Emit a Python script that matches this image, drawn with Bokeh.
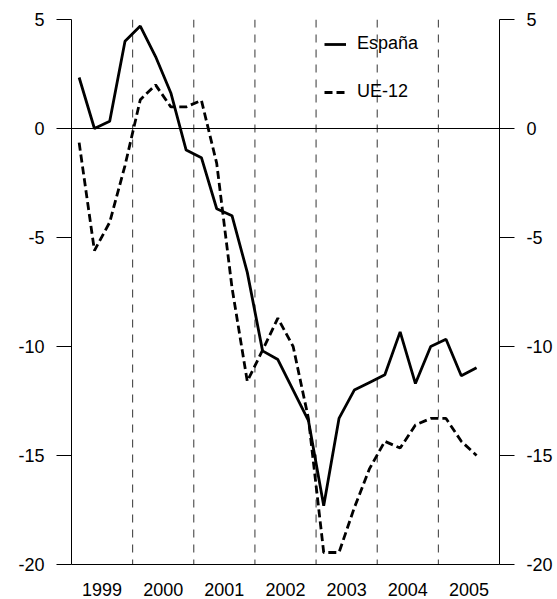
from bokeh.plotting import figure
from bokeh.models import (LinearAxis, Range1d, FixedTicker, Span, Legend, LegendItem)
from bokeh.embed import file_html
from bokeh.resources import INLINE

# ---- data ----
years = [1999, 2000, 2001, 2002, 2003, 2004, 2005]
year_labels = ["1999", "2000", "2001", "2002", "2003", "2004", "2005"]
quarters_per_year = 4
first_year = 1999
n_quarters = 27  # 1999T1 .. 2005T3

espana = [2.34, 0.0, 0.33, 4.0, 4.7, 3.3, 1.63, -0.99, -1.34, -3.68, -4.0, -6.6,
          -10.2, -10.6, -12.0, -13.4, -17.3, -13.3, -12.0, -11.65, -11.3, -9.33,
          -11.7, -10.0, -9.67, -11.34, -10.97]
ue12 = [-0.65, -5.6, -4.3, -1.7, 1.32, 2.0, 0.99, 0.99, 1.29, -1.6, -7.3, -11.6,
        -10.17, -8.7, -10.0, -13.3, -19.45, -19.45, -17.4, -15.6, -14.35, -14.66,
        -13.6, -13.3, -13.3, -14.35, -15.0]
y_ticks = [-20, -15, -10, -5, 0, 5]
y_tick_labels = ["-20", "-15", "-10", "-5", "0", "5"]

# quarter midpoints on a continuous time axis
xq = [first_year + (k + 0.5) / quarters_per_year for k in range(n_quarters)]

FONT = "Liberation Sans"
FS = "18px"

p = figure(frame_width=428, frame_height=545, output_backend="svg", toolbar_location=None,
           x_range=Range1d(1999, 2006), y_range=Range1d(-20, 5),
           x_axis_location=None, y_axis_location=None,
           min_border_left=71, min_border_right=57, min_border_top=19,
           min_border_bottom=34)
p.outline_line_color = None
p.xgrid.visible = False
p.ygrid.visible = False
p.background_fill_color = "white"
p.border_fill_color = "white"

def yaxis():
    ax = LinearAxis(ticker=FixedTicker(ticks=y_ticks))
    ax.major_label_overrides = {t: s for t, s in zip(y_ticks, y_tick_labels)}
    ax.axis_line_color = "black"
    ax.axis_line_width = 1
    ax.major_tick_line_color = "black"
    ax.major_tick_out = 15
    ax.major_tick_in = 0
    ax.minor_tick_out = 0
    ax.minor_tick_in = 0
    ax.major_label_standoff = 12
    ax.major_label_text_font = FONT
    ax.major_label_text_font_size = FS
    ax.major_label_text_color = "black"
    return ax

p.add_layout(yaxis(), "left")
p.add_layout(yaxis(), "right")

xa = LinearAxis(ticker=FixedTicker(ticks=[y + 0.5 for y in years]))
xa.major_label_overrides = {y + 0.5: lab for y, lab in zip(years, year_labels)}
xa.axis_line_color = "black"
xa.major_tick_line_color = None
xa.minor_tick_line_color = None
xa.major_label_standoff = 12
xa.major_label_text_font = FONT
xa.major_label_text_font_size = FS
xa.major_label_text_color = "black"
p.add_layout(xa, "below")

# year separators
for y in years[1:]:
    p.add_layout(Span(location=y, dimension="height", line_color="black",
                      line_width=1, line_dash="8 7", line_alpha=0.8))
# zero line
p.add_layout(Span(location=0, dimension="width", line_color="black", line_width=1))

r1 = p.line(xq, espana, line_color="black", line_width=2.8)
r2 = p.line(xq, ue12, line_color="black", line_width=2.8, line_dash="8 4")

leg = Legend(items=[LegendItem(label="España", renderers=[r1]),
                    LegendItem(label="UE-12", renderers=[r2])],
             location=(253, 462), orientation="vertical",
             glyph_width=22, glyph_height=20, label_height=20,
             label_standoff=11, spacing=27, padding=0, margin=0,
             label_text_font=FONT, label_text_font_size=FS,
             label_text_color="black",
             background_fill_alpha=0, border_line_alpha=0)
p.add_layout(leg, "center")

open("out.html", "w").write(file_html(p, INLINE))
